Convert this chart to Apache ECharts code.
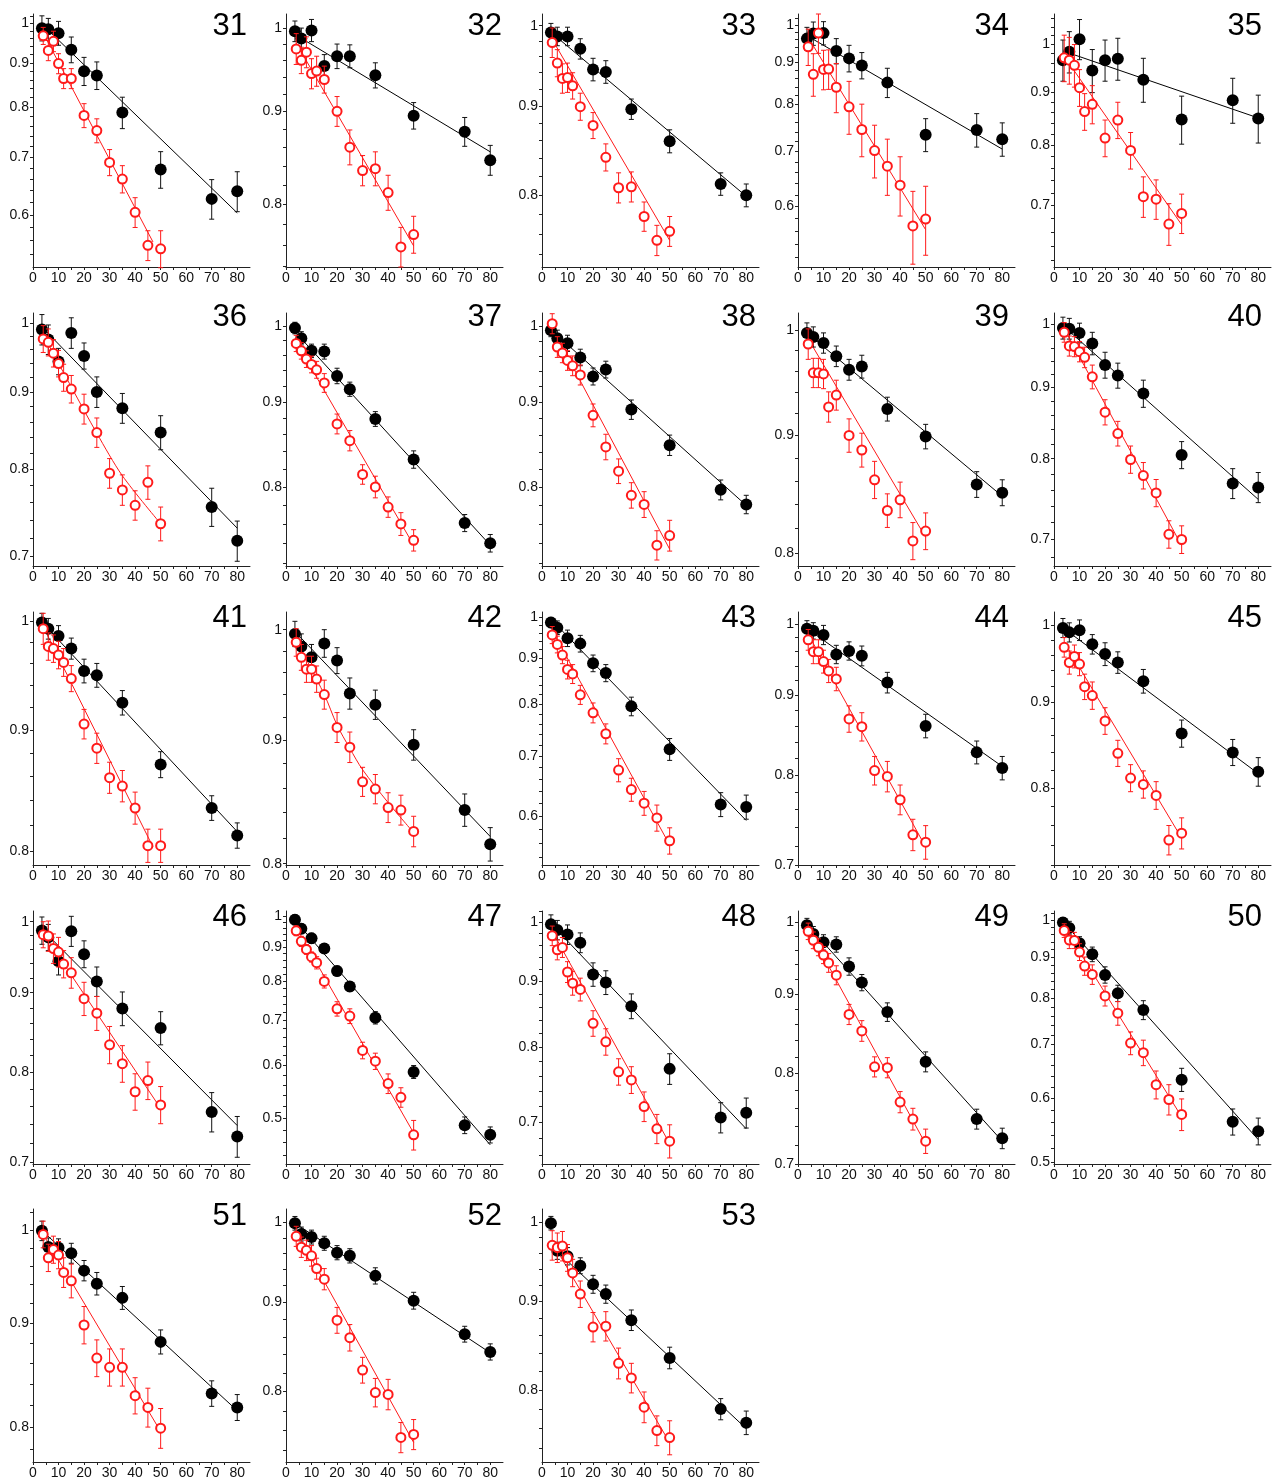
<!DOCTYPE html>
<html><head><meta charset="utf-8">
<script src="https://cdn.jsdelivr.net/npm/echarts@6/dist/echarts.min.js"></script>
<style>html,body{margin:0;padding:0;background:#fff}#chart{width:1274px;height:1484px}</style>
</head><body><div id="chart"></div>
<script>
// ---------------- data ----------------
const panelIds = [31,32,33,34,35,36,37,38,39,40,41,42,43,44,45,46,47,48,49,50,51,52,53];
const blackX = [3.5, 6, 10, 15, 20, 25, 35, 50, 70, 80];
const redX = [4, 6, 8, 10, 12, 15, 20, 25, 30, 35, 40, 45, 50];
const xLabelValues = [0, 10, 20, 30, 40, 50, 60, 70, 80];
const xTickValues = [0, 5, 10, 15, 20, 25, 30, 35, 40, 45, 50, 55, 60, 65, 70, 75, 80];

const yMin = [0.522,0.739,0.728,0.506,0.611, 0.690,0.717,0.717,0.790,0.670, 0.789,0.799,0.529,0.700,0.720, 0.698,0.427,0.650,0.700,0.497, 0.769,0.729,0.727];
const yMax = [1.025,1.018,1.0155,1.031,1.070, 1.0154,1.018,1.019,1.017,1.018, 1.0093,1.017,1.013,1.018,1.018, 1.016,1.019,1.020,1.017,1.027, 1.024,1.018,1.018];

const blackMean = [
 [0.987,0.984,0.974,0.932,0.880,0.870,0.788,0.677,0.626,0.639],
 [0.996,0.987,0.997,0.953,0.965,0.965,0.942,0.895,0.877,0.846],
 [0.991,0.986,0.986,0.970,0.944,0.941,0.896,0.859,0.812,0.800],
 [0.962,0.976,0.977,0.929,0.910,0.892,0.850,0.734,0.744,0.725],
 [0.966,0.984,1.012,0.944,0.966,0.969,0.925,0.847,0.884,0.849],
 [0.990,0.975,0.943,0.985,0.951,0.900,0.878,0.846,0.755,0.717],
 [0.997,0.983,0.966,0.965,0.933,0.916,0.879,0.831,0.761,0.740],
 [0.995,0.984,0.977,0.958,0.933,0.942,0.891,0.848,0.797,0.781],
 [0.997,0.993,0.987,0.974,0.961,0.964,0.924,0.899,0.857,0.850],
 [0.993,0.992,0.985,0.968,0.934,0.918,0.891,0.805,0.768,0.763],
 [0.999,0.993,0.986,0.974,0.953,0.949,0.924,0.870,0.834,0.812],
 [0.996,0.984,0.974,0.987,0.971,0.941,0.931,0.896,0.842,0.815],
 [0.986,0.973,0.947,0.934,0.888,0.866,0.795,0.712,0.618,0.614],
 [0.993,0.990,0.984,0.956,0.961,0.954,0.917,0.860,0.827,0.808],
 [0.996,0.990,0.993,0.974,0.961,0.950,0.926,0.862,0.840,0.818],
 [0.987,0.977,0.943,0.986,0.953,0.915,0.879,0.854,0.754,0.727],
 [0.989,0.959,0.928,0.896,0.829,0.786,0.706,0.586,0.488,0.472],
 [0.996,0.986,0.978,0.964,0.911,0.898,0.861,0.770,0.706,0.712],
 [0.996,0.983,0.971,0.968,0.937,0.915,0.876,0.814,0.748,0.727],
 [0.994,0.978,0.936,0.907,0.855,0.811,0.773,0.633,0.561,0.546],
 [0.999,0.981,0.980,0.974,0.955,0.941,0.926,0.881,0.831,0.818],
 [0.999,0.985,0.981,0.973,0.961,0.957,0.932,0.902,0.863,0.843],
 [0.999,0.963,0.956,0.944,0.921,0.909,0.878,0.835,0.780,0.766]
];
const blackErr = [
 [0.033,0.029,0.031,0.032,0.033,0.032,0.033,0.033,0.033,0.034],
 [0.013,0.013,0.014,0.014,0.015,0.014,0.015,0.015,0.016,0.016],
 [0.012,0.012,0.012,0.013,0.014,0.014,0.012,0.013,0.012,0.012],
 [0.031,0.032,0.032,0.033,0.034,0.033,0.035,0.034,0.035,0.034],
 [0.044,0.045,0.045,0.045,0.044,0.045,0.045,0.045,0.044,0.045],
 [0.023,0.022,0.019,0.023,0.019,0.021,0.020,0.022,0.022,0.022],
 [0.008,0.009,0.009,0.010,0.010,0.009,0.009,0.010,0.009,0.009],
 [0.009,0.011,0.011,0.011,0.011,0.011,0.012,0.012,0.011,0.010],
 [0.010,0.010,0.010,0.010,0.010,0.011,0.011,0.011,0.011,0.011],
 [0.018,0.017,0.016,0.018,0.020,0.019,0.020,0.018,0.019,0.019],
 [0.009,0.010,0.010,0.010,0.011,0.011,0.011,0.011,0.010,0.010],
 [0.012,0.012,0.012,0.013,0.012,0.014,0.013,0.013,0.013,0.013],
 [0.013,0.017,0.020,0.020,0.019,0.019,0.019,0.020,0.019,0.019],
 [0.012,0.012,0.014,0.013,0.013,0.014,0.014,0.015,0.014,0.014],
 [0.013,0.013,0.014,0.013,0.015,0.014,0.015,0.016,0.015,0.016],
 [0.020,0.019,0.019,0.022,0.019,0.020,0.022,0.021,0.022,0.022],
 [0.017,0.016,0.016,0.015,0.014,0.013,0.015,0.013,0.014,0.013],
 [0.017,0.017,0.017,0.017,0.019,0.019,0.019,0.021,0.019,0.019],
 [0.010,0.011,0.011,0.011,0.012,0.011,0.012,0.012,0.011,0.011],
 [0.014,0.019,0.018,0.019,0.020,0.019,0.021,0.021,0.021,0.021],
 [0.011,0.010,0.010,0.011,0.011,0.012,0.012,0.012,0.012,0.012],
 [0.009,0.009,0.009,0.009,0.009,0.009,0.010,0.010,0.009,0.009],
 [0.009,0.011,0.011,0.010,0.011,0.011,0.012,0.012,0.011,0.012]
];
const redMean = [
 [0.967,0.930,0.953,0.898,0.863,0.863,0.782,0.751,0.690,0.660,0.604,0.553,0.548],
 [0.974,0.960,0.970,0.944,0.947,0.937,0.900,0.860,0.835,0.837,0.812,0.758,0.770],
 [0.978,0.952,0.933,0.934,0.924,0.899,0.877,0.841,0.808,0.809,0.778,0.754,0.763],
 [0.940,0.870,0.977,0.882,0.883,0.839,0.794,0.745,0.702,0.672,0.637,0.568,0.579],
 [0.971,0.966,0.955,0.909,0.862,0.876,0.813,0.846,0.791,0.714,0.710,0.672,0.688],
 [0.976,0.971,0.955,0.940,0.920,0.904,0.877,0.846,0.795,0.775,0.757,0.784,0.736],
 [0.976,0.966,0.955,0.948,0.941,0.924,0.873,0.853,0.814,0.800,0.778,0.760,0.743],
 [1.004,0.972,0.964,0.954,0.947,0.935,0.884,0.846,0.818,0.791,0.781,0.738,0.748],
 [0.986,0.958,0.958,0.957,0.926,0.937,0.900,0.887,0.861,0.835,0.844,0.810,0.818],
 [0.986,0.964,0.963,0.955,0.946,0.916,0.864,0.834,0.799,0.778,0.756,0.706,0.700],
 [0.993,0.976,0.974,0.968,0.961,0.946,0.905,0.884,0.859,0.852,0.834,0.804,0.804],
 [0.988,0.974,0.963,0.963,0.954,0.940,0.911,0.894,0.865,0.859,0.844,0.842,0.825],
 [0.955,0.932,0.907,0.874,0.864,0.819,0.782,0.741,0.675,0.642,0.620,0.597,0.563],
 [0.977,0.960,0.960,0.946,0.933,0.922,0.869,0.859,0.805,0.798,0.771,0.732,0.724],
 [0.970,0.950,0.958,0.948,0.919,0.908,0.877,0.839,0.811,0.804,0.792,0.745,0.752],
 [0.981,0.979,0.961,0.956,0.939,0.927,0.892,0.873,0.833,0.810,0.777,0.790,0.762],
 [0.952,0.918,0.893,0.870,0.853,0.800,0.728,0.710,0.631,0.608,0.563,0.537,0.472],
 [0.976,0.952,0.956,0.915,0.897,0.887,0.835,0.808,0.766,0.755,0.720,0.692,0.677],
 [0.987,0.974,0.964,0.953,0.942,0.925,0.873,0.852,0.808,0.807,0.767,0.748,0.724],
 [0.971,0.945,0.944,0.913,0.877,0.856,0.805,0.766,0.703,0.684,0.624,0.598,0.573],
 [0.995,0.969,0.978,0.972,0.953,0.944,0.898,0.865,0.856,0.856,0.829,0.818,0.799],
 [0.982,0.968,0.964,0.957,0.941,0.928,0.879,0.859,0.823,0.799,0.797,0.753,0.756],
 [0.970,0.967,0.969,0.954,0.935,0.909,0.870,0.871,0.829,0.813,0.782,0.758,0.751]
];
const redErr = [
 [0.022,0.025,0.026,0.024,0.023,0.023,0.025,0.024,0.024,0.024,0.024,0.022,0.027],
 [0.019,0.016,0.019,0.018,0.018,0.016,0.017,0.019,0.016,0.018,0.018,0.019,0.018],
 [0.019,0.017,0.018,0.018,0.016,0.016,0.015,0.015,0.016,0.016,0.015,0.015,0.015],
 [0.048,0.052,0.054,0.049,0.049,0.058,0.059,0.055,0.052,0.053,0.053,0.058,0.056],
 [0.050,0.050,0.045,0.037,0.035,0.037,0.033,0.034,0.032,0.032,0.031,0.031,0.030],
 [0.020,0.020,0.020,0.019,0.019,0.019,0.020,0.019,0.018,0.018,0.017,0.020,0.019],
 [0.011,0.011,0.011,0.011,0.011,0.012,0.012,0.012,0.011,0.012,0.011,0.012,0.011],
 [0.014,0.014,0.013,0.013,0.013,0.013,0.014,0.015,0.014,0.014,0.014,0.015,0.016],
 [0.015,0.014,0.014,0.014,0.014,0.014,0.015,0.015,0.016,0.014,0.015,0.015,0.015],
 [0.016,0.016,0.016,0.016,0.016,0.018,0.018,0.017,0.018,0.017,0.017,0.016,0.016],
 [0.015,0.013,0.013,0.013,0.013,0.012,0.013,0.013,0.013,0.013,0.013,0.013,0.013],
 [0.013,0.012,0.012,0.012,0.012,0.013,0.013,0.013,0.012,0.012,0.012,0.012,0.012],
 [0.021,0.020,0.020,0.021,0.021,0.020,0.020,0.019,0.020,0.019,0.019,0.020,0.019],
 [0.015,0.017,0.017,0.016,0.016,0.016,0.017,0.018,0.017,0.018,0.017,0.017,0.018],
 [0.013,0.015,0.015,0.015,0.016,0.017,0.016,0.015,0.015,0.015,0.015,0.015,0.016],
 [0.019,0.022,0.021,0.021,0.019,0.021,0.022,0.022,0.023,0.022,0.021,0.022,0.021],
 [0.016,0.016,0.015,0.015,0.018,0.018,0.018,0.018,0.018,0.017,0.019,0.018,0.024],
 [0.017,0.017,0.017,0.017,0.019,0.018,0.019,0.019,0.018,0.018,0.019,0.018,0.020],
 [0.012,0.012,0.012,0.012,0.013,0.013,0.013,0.013,0.012,0.012,0.012,0.012,0.013],
 [0.019,0.023,0.022,0.022,0.023,0.024,0.023,0.026,0.023,0.025,0.025,0.026,0.026],
 [0.015,0.015,0.015,0.015,0.016,0.018,0.019,0.018,0.018,0.018,0.017,0.018,0.018],
 [0.013,0.013,0.013,0.013,0.013,0.013,0.015,0.015,0.014,0.015,0.016,0.015,0.015],
 [0.019,0.019,0.019,0.017,0.017,0.016,0.017,0.017,0.017,0.016,0.016,0.015,0.017]
];
// fitted lines, [x, value] pairs
const blackFit = [
 [[5,0.988],[80,0.603]], [[4,0.991],[80,0.855]], [[4,0.990],[80,0.799]], [[4,0.968],[80,0.705]], [[4,0.985],[80,0.850]],
 [[4,0.992],[80,0.731]], [[4,0.990],[80,0.738]], [[4,0.994],[80,0.780]], [[4,0.996],[80,0.847]], [[4,0.995],[80,0.748]],
 [[4,0.998],[80,0.815]], [[4,0.997],[80,0.821]], [[4,0.991],[80,0.593]], [[4,0.992],[80,0.810]], [[4,0.995],[80,0.816]],
 [[4,0.987],[80,0.739]], [[4,0.982],[80,0.456]], [[4,0.995],[80,0.692]], [[4,0.995],[80,0.724]], [[4,0.992],[80,0.533]],
 [[4,0.998],[80,0.815]], [[4,0.998],[80,0.842]], [[4,0.968],[80,0.760]]
];
const redFit = [
 [[4,0.974],[47,0.558]], [[4,0.981],[50,0.759]], [[4,0.982],[50,0.754]], [[4,0.965],[50,0.562]], [[4,0.974],[50,0.671]],
 [[4,0.982],[15,0.907],[25,0.845],[35,0.792],[50,0.736]], [[4,0.978],[50,0.738]], [[4,0.998],[50,0.734]], [[4,0.991],[50,0.813]], [[4,0.992],[50,0.693]],
 [[4,0.995],[47,0.803]], [[4,0.990],[15,0.940],[20,0.913],[25,0.893],[30,0.875],[40,0.848],[50,0.824]], [[4,0.966],[50,0.557]], [[4,0.985],[50,0.719]], [[4,0.977],[50,0.747]],
 [[4,0.983],[50,0.758]], [[4,0.963],[50,0.475]], [[4,0.984],[50,0.674]], [[4,0.991],[50,0.721]], [[4,0.981],[50,0.569]],
 [[4,0.995],[50,0.796]], [[4,0.989],[50,0.748]], [[4,0.974],[50,0.746]]
];

// ---------------- layout ----------------
const colLeft = [33, 286, 542, 798, 1054];
const rowTop = [14, 313, 612, 911, 1209];
const plotW = 217, plotH = 253;
const numRight = [247, 502, 756, 1009, 1262];
const numMidY = [26, 317, 618, 917, 1216];
const FONT = '"Liberation Sans", Arial, sans-serif';
const AXIS_COLOR = '#222';
const RED = '#ff1a1a';

function yTicksFor(min, max, stepPerMil) {
  const out = [];
  for (let k = Math.ceil(min * 1000 / stepPerMil); k * stepPerMil <= max * 1000 + 1e-6; k++) {
    out.push(Math.round(k * stepPerMil) / 1000);
  }
  return out;
}

function errorBars(gi, xs, means, errs, color, z) {
  return {
    type: 'custom', xAxisIndex: gi, yAxisIndex: gi, z: z, silent: true,
    data: xs.map((x, i) => [x, means[i], errs[i]]),
    encode: { x: 0, y: 1 },
    renderItem: function (params, api) {
      const x = api.value(0), m = api.value(1), e = api.value(2);
      const t = api.coord([x, m + e]);
      const b = api.coord([x, m - e]);
      const w = 2.5;
      const st = { stroke: color, lineWidth: 1 };
      return { type: 'group', children: [
        { type: 'line', shape: { x1: t[0], y1: t[1], x2: b[0], y2: b[1] }, style: st },
        { type: 'line', shape: { x1: t[0] - w, y1: t[1], x2: t[0] + w, y2: t[1] }, style: st },
        { type: 'line', shape: { x1: b[0] - w, y1: b[1], x2: b[0] + w, y2: b[1] }, style: st }
      ]};
    }
  };
}

const grids = [], xAxes = [], yAxes = [], series = [], graphics = [];
panelIds.forEach((id, gi) => {
  const col = gi % 5, row = Math.floor(gi / 5);
  grids.push({ left: colLeft[col], top: rowTop[row], width: plotW, height: plotH, containLabel: false });
  xAxes.push({
    gridIndex: gi, type: 'value', min: 0, max: 85,
    axisLine: { show: true, onZero: false, lineStyle: { color: AXIS_COLOR, width: 1 } },
    axisTick: { show: true, length: 3, customValues: xTickValues, lineStyle: { color: AXIS_COLOR } },
    axisLabel: { customValues: xLabelValues, fontSize: 14, color: '#111', margin: 4, fontFamily: FONT },
    splitLine: { show: false }
  });
  yAxes.push({
    gridIndex: gi, type: 'log', logBase: 10, min: yMin[gi], max: yMax[gi],
    axisLine: { show: true, onZero: false, lineStyle: { color: AXIS_COLOR, width: 1 } },
    axisTick: { show: true, length: 3, customValues: yTicksFor(yMin[gi], yMax[gi], 20), lineStyle: { color: AXIS_COLOR } },
    axisLabel: {
      customValues: yTicksFor(yMin[gi], yMax[gi], 100), fontSize: 14, color: '#111', margin: 4, fontFamily: FONT,
      formatter: v => (Math.abs(v - 1) < 1e-6 ? '1' : (Math.round(v * 10) / 10).toFixed(1))
    },
    splitLine: { show: false }, minorTick: { show: false }
  });
  series.push({
    type: 'line', xAxisIndex: gi, yAxisIndex: gi, data: blackFit[gi], symbol: 'none', z: 2, silent: true,
    lineStyle: { color: '#000', width: 1 }
  });
  series.push({
    type: 'line', xAxisIndex: gi, yAxisIndex: gi, data: redFit[gi], symbol: 'none', z: 2, silent: true,
    smooth: redFit[gi].length > 2 ? 0.3 : false,
    lineStyle: { color: RED, width: 1 }
  });
  series.push(errorBars(gi, blackX, blackMean[gi], blackErr[gi], '#111', 3));
  series.push({
    type: 'scatter', xAxisIndex: gi, yAxisIndex: gi, z: 4, silent: true,
    data: blackX.map((x, i) => [x, blackMean[gi][i]]),
    symbol: 'circle', symbolSize: 12, itemStyle: { color: '#000', opacity: 1 }
  });
  series.push(errorBars(gi, redX, redMean[gi], redErr[gi], RED, 5));
  series.push({
    type: 'scatter', xAxisIndex: gi, yAxisIndex: gi, z: 6, silent: true,
    data: redX.map((x, i) => [x, redMean[gi][i]]),
    symbol: 'circle', symbolSize: 9,
    itemStyle: { color: '#fff', borderColor: RED, borderWidth: 2, opacity: 1 }
  });
  graphics.push({
    type: 'text', x: numRight[col], y: numMidY[row], z: 10,
    style: { text: String(id), font: '31px ' + FONT, fill: '#000', align: 'right', verticalAlign: 'middle', textAlign: 'right', textVerticalAlign: 'middle' }
  });
});

const chart = echarts.init(document.getElementById('chart'), null, { renderer: 'canvas' });
chart.setOption({
  animation: false,
  backgroundColor: '#fff',
  grid: grids, xAxis: xAxes, yAxis: yAxes, series: series, graphic: graphics
});
</script></body></html>
